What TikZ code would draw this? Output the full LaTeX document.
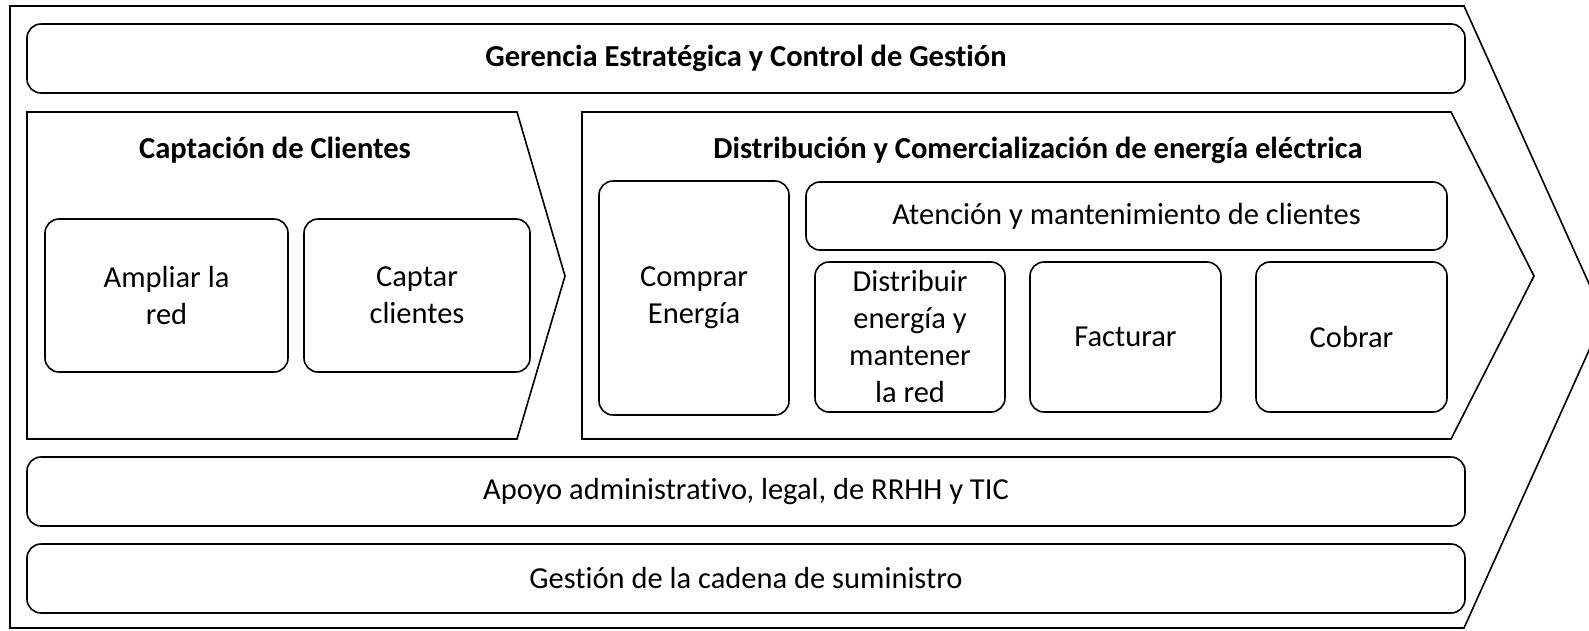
\documentclass[tikz,border=0pt]{standalone}
\usepackage{fontspec}
\setmainfont{Carlito}[Ligatures=NoCommon]
\tikzset{
  frame/.style={draw, line width=1.6pt},
  box/.style={draw, line width=1.6pt, rounded corners=14pt, align=center, inner sep=0pt,
    font=\fontsize{30.5}{37}\selectfont},
  title/.style={font=\bfseries\fontsize{30.5}{37}\selectfont},
}
\begin{document}
\begin{tikzpicture}[x=1pt, y=-1pt]
    \useasboundingbox (0,0) rectangle (1589,630);
    \clip (0,0) rectangle (1589,630);
    \def\W{1438}
    \def\Xmid{746}
    % outer chevron and the two process blocks
    \coordinate (tip) at (1604,317);
    \draw[frame] (10,6) -- (1464,6) -- (tip) -- (1464,628) -- (10,628) -- cycle;
    \draw[frame] (27,112) -- (517,112) -- (565,276) -- (517,439) -- (27,439) -- cycle;
    \draw[frame] (582,112) -- (1451,112) -- (1534,276) -- (1451,439) -- (582,439) -- cycle;
    \node[box, minimum width=\W, minimum height=69] (gerencia) at (\Xmid,58.5)
      {\bfseries Gerencia Estratégica y Control de Gestión};
    \node[title] (captacion) at (275,150) {Captación de Clientes};
    \node[title] (distribucion) at (1038,150) {Distribución y Comercialización de energía eléctrica};
    \node[box, minimum width=243, minimum height=153] (ampliar) at (166.5,295.5) {Ampliar la\\red};
    \node[box, minimum width=226, minimum height=153] (captar) at (417,295.5) {Captar\\clientes};
    \node[box, minimum width=190, minimum height=234] (comprar) at (694,298) {Comprar\\Energía};
    \node[box, minimum width=641, minimum height=68] (atencion) at (1126.5,216)
      {Atención y mantenimiento de clientes};
    \node[box, minimum width=190, minimum height=150] (distribuir) at (910,337)
      {Distribuir\\energía y\\mantener\\la red};
    \foreach \n/\cx/\txt in {facturar/1125.5/Facturar, cobrar/1351.5/Cobrar} {
      \node[box, minimum width=191, minimum height=150] (\n) at (\cx,337) {\txt};
    }
    \node[box, minimum width=\W, minimum height=69] (apoyo) at (\Xmid,491.5)
      {Apoyo administrativo, legal, de RRHH y TIC};
    \node[box, minimum width=\W, minimum height=69] (gestion) at (\Xmid,578.5)
      {Gestión de la cadena de suministro};
  \end{tikzpicture}
\end{document}
